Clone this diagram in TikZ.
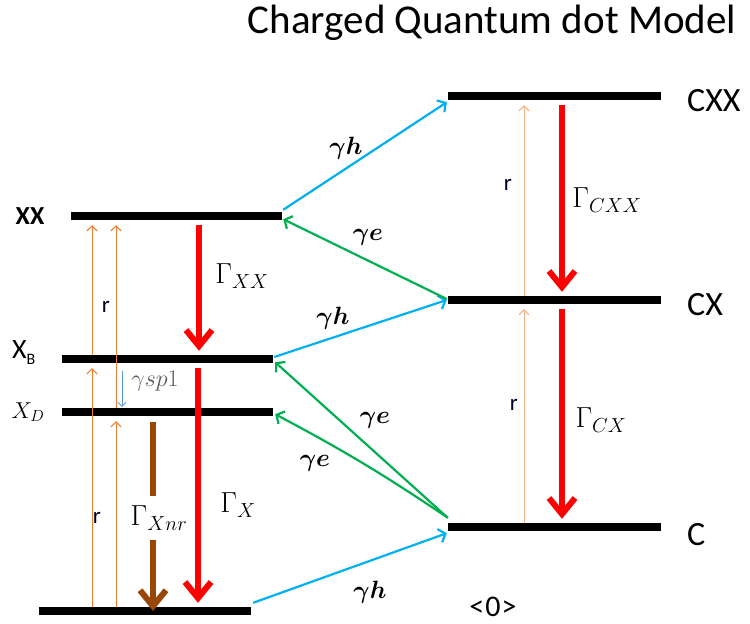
\RequirePackage{fix-cm}
\documentclass[tikz,border=0pt]{standalone}
\usepackage{bm}
\usepackage{fontspec}
\setmainfont{Carlito}
\usetikzlibrary{arrows.meta,calc}
\definecolor{lvorange}{HTML}{ED7D31}
\definecolor{lvlorange}{HTML}{F4B183}
\definecolor{lvcyan}{HTML}{00B0F0}
\definecolor{lvgreen}{HTML}{00B050}
\definecolor{lvbrown}{HTML}{974806}
\definecolor{lvblue}{HTML}{5B9BD5}
\definecolor{lvgray}{HTML}{595959}
\newcommand{\fsz}[1]{\fontsize{#1}{#1}\selectfont}
\begin{document}
\begin{tikzpicture}[x=1pt,y=-1pt,
  level/.style={rectangle, fill=black, draw=none, inner sep=0pt, minimum height=8pt},
  pump/.style={draw=lvorange, line width=1pt, shorten >=5pt, -{Straight Barb[length=5pt,width=10pt]}},
  pumpl/.style={pump, draw=lvlorange},
  bigtip/.style={-{Straight Barb[length=16pt,width=26pt]}},
  rad/.style={draw=red, line width=6pt, shorten <=5pt, shorten >=4pt, bigtip},
  nrad/.style={draw=lvbrown, line width=6pt},
  hole/.style={draw=lvcyan, line width=2.2pt, -{Straight Barb[length=6pt,width=14pt]}},
  elec/.style={draw=lvgreen, line width=2.2pt, -{Straight Barb[length=6pt,width=14pt]}},
  spin/.style={draw=lvblue, line width=0.8pt, -{Straight Barb[length=4pt,width=8pt]}},
  lbl/.style={inner sep=0pt},
  rlbl/.style={inner sep=0pt, font=\fsz{23}, text=black!85!blue},
  mlbl/.style={inner sep=0pt, font=\fsz{25}},
  glbl/.style={inner sep=0pt, font=\fsz{29}},
  slbl/.style={inner sep=0pt, anchor=west, font=\fsz{34}}
]
\useasboundingbox (0,0) rectangle (750,624);

% levels
\node[level, minimum width=211pt] (XX)  at (176.5,216) {};
\node[level, minimum width=211pt] (XB)  at (167.5,359) {};
\node[level, minimum width=211pt] (XD)  at (167.5,412) {};
\node[level, minimum width=212pt] (G)   at (145,611) {};
\node[level, minimum width=213pt] (CXX) at (554.5,96) {};
\node[level, minimum width=213pt] (CX)  at (554.5,300) {};
\node[level, minimum width=213pt] (C)   at (554.5,527) {};

% title and level labels
\node[lbl, anchor=base] (title) at (492,33) {\fsz{41}Charged Quantum dot Model};
\node[lbl, font=\fsz{26}\bfseries] (lXX) at (30,216) {XX};
\node[lbl, anchor=base west] (lXB) at (12,358) {\fsz{28}X\raisebox{-6pt}{\fsz{16}B}};
\node[lbl, font=\fsz{23}] (lXD) at (28,412) {$X_D$};
\node[slbl] (lCXX) at (687,101) {CXX};
\node[slbl] (lCX)  at (687,305) {CX};
\node[slbl] (lC)   at (687,535) {C};
\node[lbl, font=\fsz{30}] (l0) at (493,607) {<\hspace{1pt}0\hspace{1pt}>};

% pumping (orange)
\draw[pump] (G.north -| 92,0)  -- (XB.south -| 92,0);
\draw[pump] (XB.north -| 92,0) -- (XX.south -| 92,0);
\draw[pump] (G.north -| 116,0) -- (XD.south -| 116,0);
\draw[pump] (XD.north -| 116,0) -- (XX.south -| 116,0);
\draw[pumpl] (C.north -| 524,0) -- (CX.south -| 524,0);
\draw[pumpl] (CX.north -| 524,0) -- (CXX.south -| 524,0);
\node[rlbl] (r1) at (106,307) {r};
\node[rlbl] (r2) at (97,518) {r};
\node[rlbl] (r3) at (508,185) {r};
\node[rlbl] (r4) at (514,405) {r};

% spin flip
\draw[spin, shorten <=8pt, shorten >=1pt] (XB.south -| 122,0) -- (XD.north -| 122,0);
\node[lbl, font=\fsz{24}, text=lvgray] (lsp) at (155,381) {$\gamma sp1$};

% radiative (red)
\draw[rad] (XX.south -| 199,0) -- (XB.north -| 199,0);
\draw[rad] (XB.south -| 198,0) -- (G.north -| 198,0);
\draw[rad] (CXX.south -| 562,0) -- (CX.north -| 562,0);
\draw[rad] (CX.south -| 562,0) -- (C.north -| 562,0);
\node[glbl] (lGXX) at (242,276) {$\Gamma_{XX}$};
\node[glbl] (lGX) at (238,505) {$\Gamma_{X}$};
\node[glbl] (lGCXX) at (607,200) {$\Gamma_{CXX}$};
\node[glbl] (lGCX) at (601,420) {$\Gamma_{CX}$};

% non-radiative (brown)
\node[glbl] (lGnr) at (159,518) {$\Gamma_{Xnr}$};
\coordinate (nrA) at (153,496);
\coordinate (nrB) at (153,540);
\draw[nrad, shorten <=6pt] (XD.south -| 153,0) -- (nrA);
\draw[nrad, bigtip] (nrB) -- (G.center -| 153,0);

% hole capture (cyan)
\draw[hole] ($(XX.north east)+(1,-2)$) -- ($(CXX.south west)+(-1,2)$);
\draw[hole] ($(XB.east)+(1,-2)$) -- ($(CX.west)+(-1,0)$);
\draw[hole] ($(G.north east)+(2,-4)$) -- ($(C.south west)+(-1,2)$);
\node[mlbl] (lh1) at (346,148) {$\bm{\gamma h}$};
\node[mlbl] (lh2) at (333,318) {$\bm{\gamma h}$};
\node[mlbl] (lh3) at (370,592) {$\bm{\gamma h}$};

% electron capture (green)
\draw[elec] ($(CX.west)+(-1,-1)$) -- ($(XX.south east)+(1,-1)$);
\draw[elec] ($(C.north west)+(0,-5)$) -- ($(XB.south east)+(2,-1)$);
\draw[elec] ($(C.north west)+(0,-5)$) to[bend right=3] ($(XD.south east)+(2,-2)$);
\node[mlbl] (le1) at (368,237) {$\bm{\gamma e}$};
\node[mlbl] (le2) at (375,420) {$\bm{\gamma e}$};
\node[mlbl] (le3) at (315,463) {$\bm{\gamma e}$};
\end{tikzpicture}
\end{document}
